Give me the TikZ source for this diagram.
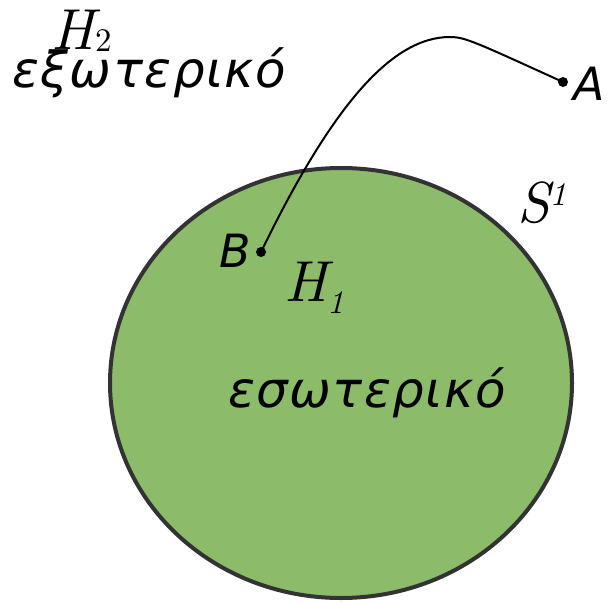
\documentclass[tikz,border=0pt]{standalone}
\usepackage{fontspec}
\newfontfamily\grfont[LetterSpace=3]{DejaVu Sans}
\newfontfamily\ptfont{DejaVu Sans}
\newfontfamily\lmten{lmroman10-regular.otf}[ItalicFont=lmroman10-italic.otf]
\definecolor{discgreen}{RGB}{140,187,106}
\definecolor{rimgray}{RGB}{51,51,51}
\newcommand{\smallidx}{\fontsize{33}{33}\selectfont}
\tikzset{
  wordlabel/.style={anchor=base west, inner sep=0pt, font=\grfont\itshape\fontsize{50}{56}\selectfont},
  ptlabel/.style={anchor=base west, inner sep=0pt, font=\ptfont\itshape\fontsize{46}{54}\selectfont},
  mathlabel/.style={anchor=base west, inner sep=0pt, font=\lmten\fontsize{58}{62}\selectfont},
  dot/.style={circle, fill=black, inner sep=0pt, minimum size=10bp},
  disc/.style={fill=discgreen, draw=rimgray, line width=4bp}
}
\begin{document}
\begin{tikzpicture}[x=1bp,y=-1bp]
\useasboundingbox (0,0) rectangle (608,604);
\draw[disc] (341,383) ellipse [x radius=231, y radius=215];
\node[dot] (A) at (563,82) {};
\node[dot] (B) at (261,252) {};
\draw[line width=2bp] (B.center) .. controls (330,110) and (390,37) .. (450,37)
   .. controls (465,37) and (475,42) .. (A.center);
\node[ptlabel] (lA) at (573,101) {A};
\node[ptlabel] (lB) at (219,267) {B};
\node[mathlabel] (H2) at (51,50) {\itshape H\kern1bp\raisebox{-2bp}{\upshape\smallidx 2}};
\node[mathlabel] (H1) at (284,301) {\itshape H\kern0bp\raisebox{-12bp}{\smallidx 1}};
\node[mathlabel] (S1) at (517,222) {\itshape S\kern0bp\raisebox{17bp}{\smallidx 1}};
\node[wordlabel] (ext) at (12,88) {εξωτερικό};
\node[wordlabel] (int) at (228,407) {εσωτερικό};
\end{tikzpicture}
\end{document}
